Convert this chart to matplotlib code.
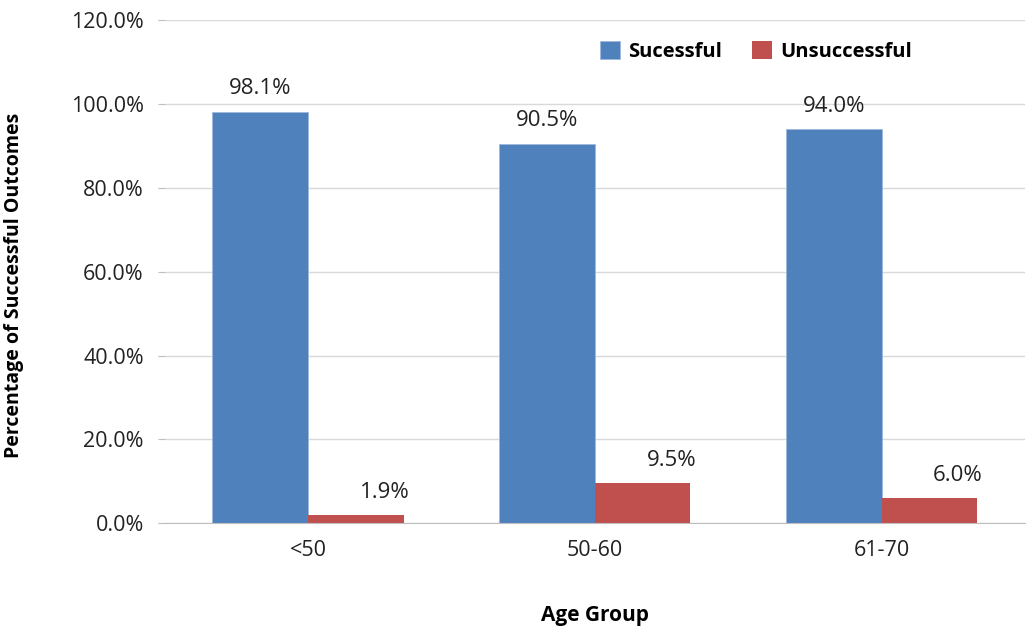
import numpy as np
import matplotlib.pyplot as plt
from matplotlib.ticker import FuncFormatter

# age groups and outcome percentages
groups = ['<50', '50-60', '61-70']
successful = [98.1, 90.5, 94.0]
unsuccessful = [1.9, 9.5, 6.0]

plt.rcParams['font.family'] = ['Open Sans', 'DejaVu Sans']

fig = plt.figure(figsize=(10.29, 6.29), dpi=100)
ax = fig.add_axes([0.160, 0.168, 0.836, 0.800])

x = np.arange(len(groups))
w = 1 / 3
blue = '#4F81BD'
red = '#C0504D'

ax.bar(x - w / 2, successful, w, color=blue, label='Sucessful', edgecolor='#9DB9DD', linewidth=0.6)
ax.bar(x + w / 2, unsuccessful, w, color=red, label='Unsuccessful')

# value labels
for xi, v in zip(x, successful):
    ax.text(xi - w / 2, v + 3.0, f'{v:.1f}%', ha='center', va='bottom', fontsize=16, color='#222222')
for xi, v in zip(x, unsuccessful):
    ax.text(xi + w / 2 + 0.1, v + 3.0, f'{v:.1f}%', ha='center', va='bottom', fontsize=16, color='#222222')

ax.set_xlim(-0.5, 2.5)
ax.set_ylim(0, 120)
ax.set_yticks(np.arange(0, 121, 20))
ax.yaxis.set_major_formatter(FuncFormatter(lambda v, p: f'{v:.1f}%'))
ax.set_xticks(x)
ax.set_xticklabels(groups)
ax.tick_params(axis='both', labelsize=15.5, colors='#222222')
ax.tick_params(axis='y', length=5, color='#BFBFBF', pad=10)
ax.tick_params(axis='x', length=0, pad=12)

ax.grid(axis='y', color='#D9D9D9', linewidth=1)
ax.set_axisbelow(True)
for s in ['top', 'right', 'left']:
    ax.spines[s].set_visible(False)
ax.spines['bottom'].set_color('#BFBFBF')

ax.set_ylabel('Percentage of Successful Outcomes', fontsize=14, fontweight='bold')
ax.yaxis.set_label_coords(-0.164, 0.473)
ax.set_xlabel('Age Group', fontsize=15, fontweight='bold', labelpad=32)

ax.legend(loc='upper left', bbox_to_anchor=(0.485, 0.995), ncol=2, frameon=False,
          handlelength=1.0, handleheight=1.0, columnspacing=1.5,
          handletextpad=0.4, prop={'weight': 'bold', 'size': 14.5})

plt.savefig('out.png')
